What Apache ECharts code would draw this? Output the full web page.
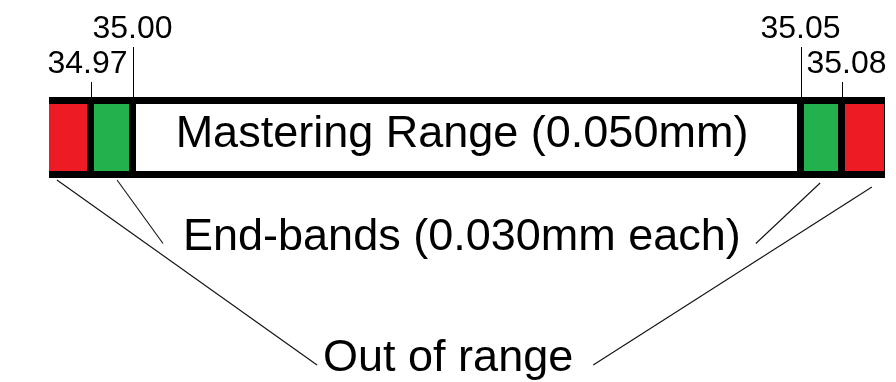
<!DOCTYPE html>
<html>
<head>
<meta charset="utf-8">
<title>Mastering range</title>
<script src="https://cdn.jsdelivr.net/npm/echarts@6/dist/echarts.min.js"></script>
<style>
  html, body { margin: 0; padding: 0; background: #fff; }
  #chart { width: 896px; height: 382px; }
</style>
</head>
<body>
<div id="chart"></div>
<script>
// zones along the bar, left to right (drawn widths are schematic, not to scale)
const zoneNames = ['Out of range', 'End-band', 'Mastering Range', 'End-band', 'Out of range']
const zoneWidths = [1, 1, 16, 1, 1]
// limits written at the zone boundaries
const boundaryLabels = ['34.97', '35.00', '35.05', '35.08']
const rangeText = 'Mastering Range (0.050mm)'
const endBandText = 'End-bands (0.030mm each)'
const outText = 'Out of range'

const FONT = '"Liberation Sans", Arial, sans-serif'
const zoneColor = { 'Out of range': '#ed1c24', 'End-band': '#22b14c', 'Mastering Range': '#ffffff' }
const BORDER = 7

// start / end of each zone on the schematic axis
const zoneStart = []
const zoneEnd = []
let acc = 0
zoneWidths.forEach(function (w) {
  zoneStart.push(acc)
  acc += w
  zoneEnd.push(acc)
})
const total = acc
const boundaries = zoneEnd.slice(0, -1)

// callout layout: which zones each text points at
const callouts = [
  { text: endBandText, zones: [1, 3], cx: 9.89, dy: 59.5, anchors: [0.63, 0.47], startGap: [2, 5], endGap: [20, 15] },
  { text: outText, zones: [0, 4], cx: 9.56, dy: 181, anchors: [0.19, 0.71], startGap: [2, 9], endGap: [6, 20] }
]

const measure = document.createElement('canvas').getContext('2d')
function textWidth (text, size) {
  measure.font = size + 'px ' + FONT
  return measure.measureText(text).width
}

let myChart = echarts.init(document.getElementById('chart'))

// bar segments: black block per zone, coloured inside, so dividers and frame come out black
function renderZone (params, api) {
  let i = params.dataIndex
  let tl = api.coord([api.value(0), 1]).map(Math.round)
  let br = api.coord([api.value(1), 0]).map(Math.round)
  let padL = i === 0 ? 0 : Math.floor(BORDER / 2)
  let padR = i === zoneNames.length - 1 ? 0 : Math.ceil(BORDER / 2)
  let children = [
    { type: 'rect', shape: { x: tl[0], y: tl[1], width: br[0] - tl[0] + 1, height: br[1] - tl[1] }, style: { fill: '#000' } },
    {
      type: 'rect',
      shape: { x: tl[0] + padL, y: tl[1] + BORDER, width: br[0] - tl[0] - padL - padR, height: br[1] - tl[1] - 2 * BORDER },
      style: { fill: zoneColor[zoneNames[i]] }
    }
  ]
  if (zoneNames[i] === 'Mastering Range') {
    children.push({
      type: 'text',
      style: {
        text: rangeText, x: (tl[0] + br[0]) / 2 - 5, y: (tl[1] + br[1]) / 2 - 3,
        font: '45px ' + FONT, fill: '#000', align: 'center', verticalAlign: 'middle'
      }
    })
  }
  return { type: 'group', children: children }
}

// boundary ticks with staggered value labels
function renderTick (params, api) {
  let i = params.dataIndex
  let p = api.coord([api.value(0), 1])
  let x = Math.round(p[0]) + 0.5
  let top = Math.round(p[1])
  let outer = i === 0 || i === boundaries.length - 1
  let len = outer ? 15 : 50
  let shift = i === 0 ? -4 : (i === boundaries.length - 1 ? 4 : -1)
  return {
    type: 'group',
    children: [
      { type: 'line', shape: { x1: x, y1: top - len, x2: x, y2: top }, style: { stroke: '#000', lineWidth: 1 } },
      {
        type: 'text',
        style: {
          text: boundaryLabels[i], x: x + shift, y: top - len - 18,
          font: '32px ' + FONT, fill: '#000', align: 'center', verticalAlign: 'middle'
        }
      }
    ]
  }
}

// texts under the bar with leader lines up to the zones
function renderCallout (params, api) {
  let c = callouts[params.dataIndex]
  let bottom = api.coord([0, 0])[1]
  let mid = api.coord([c.cx, 0])[0]
  let y = bottom + c.dy
  let half = textWidth(c.text, 45) / 2
  let children = [{
    type: 'text',
    style: { text: c.text, x: mid, y: y, font: '45px ' + FONT, fill: '#000', align: 'center', verticalAlign: 'middle' }
  }]
  c.zones.forEach(function (z, k) {
    let sx = api.coord([zoneStart[z] + c.anchors[k] * zoneWidths[z], 0])[0]
    let ex = k === 0 ? mid - half - c.endGap[0] : mid + half + c.endGap[1]
    children.push({
      type: 'line',
      shape: { x1: sx, y1: bottom + c.startGap[k], x2: ex, y2: y + 6 },
      style: { stroke: '#111', lineWidth: 1.1 }
    })
  })
  return { type: 'group', children: children }
}

myChart.setOption({
  animation: false,
  backgroundColor: '#fff',
  grid: { left: 49, right: 12, top: 97, bottom: 204 },
  xAxis: { type: 'value', min: 0, max: total, show: false },
  yAxis: { type: 'value', min: 0, max: 1, show: false },
  series: [
    {
      type: 'custom',
      renderItem: renderZone,
      data: zoneNames.map(function (n, i) { return [zoneStart[i], zoneEnd[i]] })
    },
    {
      type: 'custom',
      renderItem: renderTick,
      data: boundaries.map(function (b) { return [b, 1] })
    },
    {
      type: 'custom',
      renderItem: renderCallout,
      data: callouts.map(function (c) { return [c.cx, 0] })
    }
  ]
})
</script>
</body>
</html>
